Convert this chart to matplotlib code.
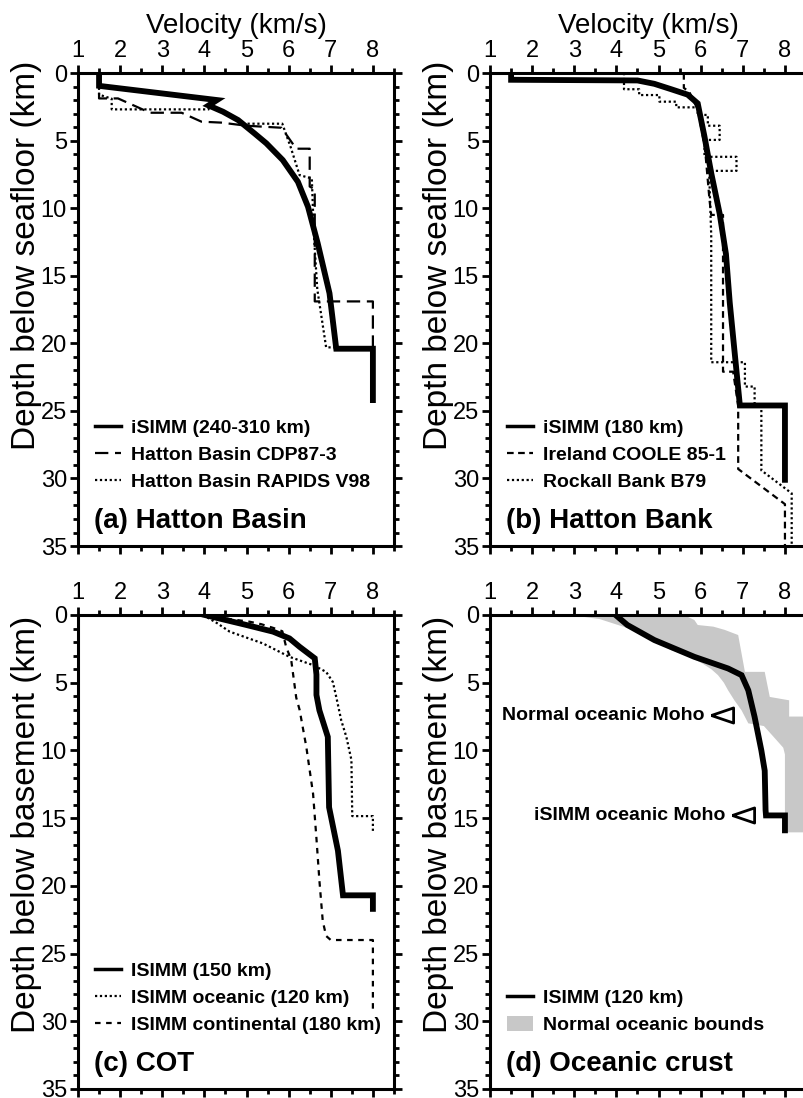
import numpy as np
import matplotlib
matplotlib.use('Agg')
import matplotlib.pyplot as plt
from matplotlib.patches import Patch
from matplotlib.ticker import MultipleLocator

plt.rcParams['font.family'] = ['Liberation Sans', 'DejaVu Sans']

# (a) Hatton Basin -- velocity (km/s) vs depth below seafloor (km)
a_isimm_v = [1.5, 1.5, 4.3, 4.1, 4.44, 4.8, 5.19, 5.47, 5.86, 6.22, 6.46, 6.69, 6.97, 7.13, 8.0, 8.0]
a_isimm_d = [0, 0.95, 2.0, 2.4, 2.86, 3.48, 4.47, 5.2, 6.44, 8.05, 9.9, 12.6, 16.3, 20.4, 20.4, 24.2]
a_cdp_v = [1.5, 1.5, 1.95, 2.71, 3.46, 3.93, 4.4, 5.0, 5.83, 6.18, 6.5, 6.5, 6.62, 6.62, 8.0, 8.0]
a_cdp_d = [0, 1.88, 1.88, 2.94, 2.94, 3.6, 3.67, 3.9, 4.05, 5.6, 5.6, 8.4, 8.6, 16.9, 16.9, 20.4]
a_v98_v = [1.5, 1.5, 1.8, 1.8, 4.1, 4.1, 4.45, 4.8, 4.96, 5.85, 6.05, 6.26, 6.55, 6.6, 6.68, 6.89, 8.0]
a_v98_d = [0, 1.6, 1.9, 2.69, 2.69, 2.35, 2.9, 3.5, 3.75, 3.75, 5.5, 7.56, 7.8, 12.0, 16.0, 20.3, 20.3]

# (b) Hatton Bank
b_isimm_v = [1.5, 1.5, 4.5, 4.9, 5.3, 5.69, 5.93, 6.01, 6.09, 6.25, 6.45, 6.6, 6.69, 6.81, 6.93, 8.0, 8.0]
b_isimm_d = [0, 0.5, 0.55, 0.8, 1.2, 1.6, 2.25, 3.48, 4.7, 7.4, 10.4, 13.4, 17.0, 20.8, 24.6, 24.6, 30.1]
b_coole_v = [5.6, 5.6, 5.73, 5.93, 6.1, 6.21, 6.25, 6.53, 6.53, 6.77, 6.89, 6.89, 8.0, 8.0]
b_coole_d = [0, 1.1, 1.4, 2.7, 5.5, 9.4, 10.5, 10.5, 22.1, 22.1, 24.6, 29.3, 31.9, 35]
b_b79_v = [4.18, 4.18, 4.54, 4.54, 5.02, 5.02, 5.42, 5.42, 5.93, 5.93, 6.17, 6.17, 6.45, 6.45,
           6.09, 6.09, 6.85, 6.85, 6.2, 6.25, 6.25, 7.05, 7.05, 7.28, 7.28, 7.44, 7.44, 8.16, 8.16]
b_b79_d = [0, 1.2, 1.2, 1.63, 1.63, 2.12, 2.12, 2.54, 2.54, 3.1, 3.1, 3.9, 3.9, 4.95,
           4.95, 6.2, 6.2, 7.24, 7.24, 12.0, 21.4, 21.4, 23.2, 23.2, 24.6, 24.6, 29.4, 31.1, 35]

# (c) COT -- depth below basement
c_isimm_v = [4.01, 5.0, 5.63, 6.02, 6.26, 6.62, 6.66, 6.66, 6.73, 6.93, 6.96, 7.17, 7.29, 8.0, 8.0]
c_isimm_d = [0, 0.74, 1.23, 1.73, 2.35, 3.2, 4.4, 5.9, 7.04, 9.0, 14.2, 17.4, 20.7, 20.7, 21.7]
c_ocean_v = [3.97, 4.3, 4.6, 5.39, 6.02, 6.58, 6.89, 7.05, 7.13, 7.25, 7.37, 7.49, 7.51, 8.0, 8.0]
c_ocean_d = [0, 0.6, 1.23, 2.1, 3.09, 3.7, 4.2, 4.95, 6.05, 7.8, 9.0, 10.7, 14.85, 14.85, 16.05]
c_cont_v = [4.0, 4.6, 5.08, 5.35, 5.63, 5.85, 5.94, 6.06, 6.18, 6.26, 6.42, 6.58, 6.66, 6.73,
            6.81, 6.89, 7.0, 8.0, 8.0]
c_cont_d = [0, 0.3, 0.5, 0.68, 0.95, 1.2, 2.35, 3.3, 6.1, 7.0, 9.75, 13.2, 16.5, 19.6,
            22.6, 23.7, 24.0, 24.0, 29.4]

# (d) Oceanic crust
d_isimm_v = [3.98, 4.26, 4.9, 5.85, 6.65, 6.97, 7.13, 7.28, 7.44, 7.52, 7.54, 7.55, 8.0, 8.0]
d_isimm_d = [0, 0.74, 1.85, 3.09, 3.95, 4.44, 5.56, 7.53, 10.0, 11.5, 14.4, 14.8, 14.8, 15.9]
band_left_v = [2.9, 3.6, 3.9, 4.3, 4.6, 4.95, 5.3, 5.75, 6.05, 6.25, 6.41, 6.55, 6.65, 6.8,
               6.97, 7.13, 7.5, 7.76, 7.96, 8.0, 8.0]
band_left_d = [0, 0.3, 0.6, 1.0, 1.5, 2.0, 2.6, 3.1, 3.6, 4.0, 4.44, 5.0, 5.56, 6.3,
               7.04, 8.0, 8.2, 9.1, 9.8, 10.3, 16.05]
band_right_v = [5.6, 5.85, 5.93, 6.3, 6.57, 6.89, 6.97, 7.05, 7.52, 7.64, 8.1, 8.1, 9.0, 9.0]
band_right_d = [0, 0.37, 0.74, 0.86, 1.1, 1.48, 2.84, 4.2, 4.2, 6.05, 6.3, 7.5, 7.5, 16.05]
moho_labels = ['Normal oceanic Moho', 'iSIMM oceanic Moho']
moho_v = [6.5, 7.0]
moho_d = [7.4, 14.8]

GREY = '#c8c8c8'
THICK = 4.2
THIN = 1.6
TRI = [(-1, 0), (1, 0.68), (1, -0.68), (-1, 0)]
LEG = dict(loc='lower left', frameon=False, prop={'weight': 'bold', 'size': 14},
           handlelength=1.35, handletextpad=0.5, labelspacing=0.44, borderpad=0,
           borderaxespad=0, handleheight=0.85)


def style_axes(ax, ylabel, ylab_y, xlabel=None):
    ax.set_xlim(1, 8.5)
    ax.set_ylim(35, 0)
    ax.xaxis.set_major_locator(MultipleLocator(1))
    ax.xaxis.set_minor_locator(MultipleLocator(0.5))
    ax.yaxis.set_major_locator(MultipleLocator(5))
    ax.yaxis.set_minor_locator(MultipleLocator(1))
    ax.tick_params(axis='x', which='both', top=True, bottom=True,
                   labeltop=True, labelbottom=False)
    ax.tick_params(axis='y', which='both', left=True, right=True)
    ax.tick_params(which='major', direction='out', length=6, width=2, labelsize=17, pad=2)
    ax.tick_params(which='minor', direction='out', length=3.5, width=2)
    for s in ax.spines.values():
        s.set_linewidth(2.2)
    ax.set_ylabel(ylabel, fontsize=24)
    ax.yaxis.set_label_coords(-0.114, ylab_y)
    if xlabel:
        ax.xaxis.set_label_position('top')
        ax.set_xlabel(xlabel, fontsize=20, labelpad=5)


def panel_label(ax, text):
    ax.text(0.05, 0.038, text, transform=ax.transAxes, fontsize=20,
            fontweight='bold', va='baseline', ha='left')


def thin_handle(**kw):
    return plt.Line2D([], [], color='k', lw=THIN, **kw)


fig = plt.figure(figsize=(8.04, 10.98), dpi=100)
W = 0.393
ax_a = fig.add_axes([0.097, 0.5027, W, 0.4308])
ax_b = fig.add_axes([0.6095, 0.5027, W, 0.4308])
ax_c = fig.add_axes([0.097, 0.0082, W, 0.4317])
ax_d = fig.add_axes([0.6095, 0.0082, W, 0.4317])

# (a)
ax = ax_a
ax.plot(a_cdp_v, a_cdp_d, color='k', lw=THIN, dashes=(6, 3))
ax.plot(a_v98_v, a_v98_d, color='k', lw=THIN, dashes=(1, 1.2))
ax.plot(a_isimm_v, a_isimm_d, color='k', lw=THICK, solid_joinstyle='miter')
style_axes(ax, 'Depth below seafloor (km)', 0.615, 'Velocity (km/s)')
ax.legend([plt.Line2D([], [], color='k', lw=2.5), thin_handle(dashes=(6, 3)),
           thin_handle(dashes=(1, 1.2))],
          ['iSIMM (240-310 km)', 'Hatton Basin CDP87-3', 'Hatton Basin RAPIDS V98'],
          bbox_to_anchor=(0.054, 0.116), **LEG)
panel_label(ax, '(a) Hatton Basin')

# (b)
ax = ax_b
ax.plot(b_coole_v, b_coole_d, color='k', lw=THIN, dashes=(3, 2))
ax.plot(b_b79_v, b_b79_d, color='k', lw=THIN, dashes=(1, 1.2))
ax.plot(b_isimm_v, b_isimm_d, color='k', lw=THICK, solid_joinstyle='miter')
style_axes(ax, 'Depth below seafloor (km)', 0.615, 'Velocity (km/s)')
ax.legend([plt.Line2D([], [], color='k', lw=2.5), thin_handle(dashes=(3, 2)),
           thin_handle(dashes=(1, 1.2))],
          ['iSIMM (180 km)', 'Ireland COOLE 85-1', 'Rockall Bank B79'],
          bbox_to_anchor=(0.054, 0.116), **LEG)
panel_label(ax, '(b) Hatton Bank')

# (c)
ax = ax_c
ax.plot(c_ocean_v, c_ocean_d, color='k', lw=THIN, dashes=(1, 1.2))
ax.plot(c_cont_v, c_cont_d, color='k', lw=THIN, dashes=(2.5, 2.5))
ax.plot(c_isimm_v, c_isimm_d, color='k', lw=THICK, solid_joinstyle='miter')
style_axes(ax, 'Depth below basement (km)', 0.559)
ax.legend([plt.Line2D([], [], color='k', lw=2.5), thin_handle(dashes=(1, 1.2)),
           thin_handle(dashes=(2.5, 2.5))],
          ['ISIMM (150 km)', 'ISIMM oceanic (120 km)', 'ISIMM continental (180 km)'],
          bbox_to_anchor=(0.054, 0.116), **LEG)
panel_label(ax, '(c) COT')

# (d)
ax = ax_d
band_v = list(band_left_v) + list(band_right_v[::-1])
band_d = list(band_left_d) + list(band_right_d[::-1])
ax.fill(band_v, band_d, color=GREY, lw=0)
ax.plot(d_isimm_v, d_isimm_d, color='k', lw=THICK, solid_joinstyle='miter')
for txt, v, d in zip(moho_labels, moho_v, moho_d):
    ax.plot(v, d, marker=TRI, ms=16, mfc='white', mec='k', mew=2, ls='none')
    ax.text(v - 0.42, d, txt, ha='right', va='center', fontsize=14, fontweight='bold')
style_axes(ax, 'Depth below basement (km)', 0.559)
ax.legend([plt.Line2D([], [], color='k', lw=2.5), Patch(facecolor=GREY, edgecolor='none')],
          ['ISIMM (120 km)', 'Normal oceanic bounds'],
          bbox_to_anchor=(0.054, 0.116), **LEG)
panel_label(ax, '(d) Oceanic crust')

fig.savefig('out.png', dpi=100)
